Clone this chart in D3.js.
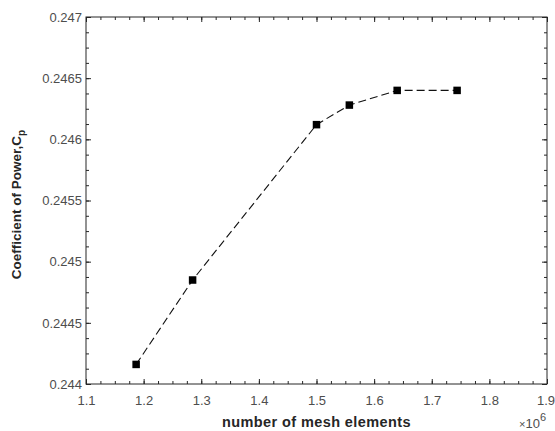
<!DOCTYPE html>
<html>
<head>
<meta charset="utf-8">
<script src="https://cdn.jsdelivr.net/npm/d3@7"></script>
<style>
  body { margin: 0; background: #fff; }
  text { font-family: "Liberation Sans", Arial, sans-serif; }
</style>
</head>
<body>
<script>
const w = 555;
const h = 431;

// mesh study data
const meshElements = [1.187e6, 1.285e6, 1.5e6, 1.557e6, 1.64e6, 1.744e6];
const powerCoeff = [0.24416, 0.24485, 0.24612, 0.24628, 0.2464, 0.2464];
const xTicks = [1.1, 1.2, 1.3, 1.4, 1.5, 1.6, 1.7, 1.8, 1.9];
const yTicks = [0.244, 0.2445, 0.245, 0.2455, 0.246, 0.2465, 0.247];

const points = meshElements.map((m, i) => ({x: m / 1e6, y: powerCoeff[i]}));

const mLeft = 86, mRight = 547, mTop = 17, mBottom = 384;

const x = d3.scaleLinear().domain([1.1, 1.9]).range([mLeft, mRight]);
const y = d3.scaleLinear().domain([0.244, 0.247]).range([mBottom, mTop]);

const svg = d3.select("body")
           .append("svg")
           .attr("width", w)
           .attr("height", h);

// minor ticks every quarter step
const xMinor = d3.range(1.1, 1.9001, 0.025);
const yMinor = d3.range(0.244, 0.2470001, 0.000125);

const tickCol = "#262626";
const labCol = "#4d4d4d";

// bottom axis
svg.append("g")
   .attr("transform", `translate(0,${mBottom})`)
   .call(d3.axisBottom(x).tickValues(xMinor).tickSize(-3).tickFormat(""))
   .call(g => g.select(".domain").remove())
   .selectAll("line").attr("stroke", tickCol);
svg.append("g")
   .attr("transform", `translate(0,${mBottom})`)
   .call(d3.axisBottom(x).tickValues(xTicks).tickSize(-5).tickPadding(12).tickFormat(d3.format(".1f")))
   .call(g => g.select(".domain").remove())
   .call(g => g.selectAll("line").attr("stroke", tickCol))
   .call(g => g.selectAll("text").attr("fill", labCol).attr("font-size", 13))
   // last label sits at the window edge, keep it inside
   .call(g => g.selectAll("text").filter(d => d === 1.9).attr("dx", -1.5));

// top axis
svg.append("g")
   .attr("transform", `translate(0,${mTop})`)
   .call(d3.axisTop(x).tickValues(xMinor).tickSize(-3).tickFormat(""))
   .call(g => g.select(".domain").remove())
   .selectAll("line").attr("stroke", tickCol);
svg.append("g")
   .attr("transform", `translate(0,${mTop})`)
   .call(d3.axisTop(x).tickValues(xTicks).tickSize(-5).tickFormat(""))
   .call(g => g.select(".domain").remove())
   .selectAll("line").attr("stroke", tickCol);

// left axis
svg.append("g")
   .attr("transform", `translate(${mLeft},0)`)
   .call(d3.axisLeft(y).tickValues(yMinor).tickSize(-3).tickFormat(""))
   .call(g => g.select(".domain").remove())
   .selectAll("line").attr("stroke", tickCol);
svg.append("g")
   .attr("transform", `translate(${mLeft},0)`)
   .call(d3.axisLeft(y).tickValues(yTicks).tickSize(-5).tickPadding(4).tickFormat(d => String(+d.toFixed(4))))
   .call(g => g.select(".domain").remove())
   .call(g => g.selectAll("line").attr("stroke", tickCol))
   .call(g => g.selectAll("text").attr("fill", labCol).attr("font-size", 13));

// right axis
svg.append("g")
   .attr("transform", `translate(${mRight},0)`)
   .call(d3.axisRight(y).tickValues(yMinor).tickSize(-3).tickFormat(""))
   .call(g => g.select(".domain").remove())
   .selectAll("line").attr("stroke", tickCol);
svg.append("g")
   .attr("transform", `translate(${mRight},0)`)
   .call(d3.axisRight(y).tickValues(yTicks).tickSize(-5).tickFormat(""))
   .call(g => g.select(".domain").remove())
   .selectAll("line").attr("stroke", tickCol);

// box
svg.append("rect")
   .attr("x", mLeft).attr("y", mTop)
   .attr("width", mRight - mLeft).attr("height", mBottom - mTop)
   .attr("fill", "none").attr("stroke", tickCol).attr("stroke-width", 1);

// dashed line
const line = d3.line().x(d => x(d.x)).y(d => y(d.y));
svg.append("path")
   .datum(points)
   .attr("d", line)
   .attr("fill", "none")
   .attr("stroke", "#111")
   .attr("stroke-width", 1.1)
   .attr("stroke-dasharray", "8,4");

// square markers
const ms = 7.5;
svg.append("g")
   .selectAll("rect")
   .data(points)
   .enter().append("rect")
   .attr("x", d => x(d.x) - ms / 2)
   .attr("y", d => y(d.y) - ms / 2)
   .attr("width", ms)
   .attr("height", ms)
   .attr("fill", "#000");

// axis labels
svg.append("text")
   .attr("x", (mLeft + mRight) / 2)
   .attr("y", 427)
   .attr("text-anchor", "middle")
   .attr("font-size", 14.5)
   .attr("font-weight", "bold")
   .attr("letter-spacing", 0.4)
   .attr("fill", "#262626")
   .text("number of mesh elements");

const yl = svg.append("text")
   .attr("transform", `translate(21,${(mTop + mBottom) / 2 + 4}) rotate(-90)`)
   .attr("text-anchor", "middle")
   .attr("font-size", 13.5)
   .attr("font-weight", "bold")
   .attr("fill", "#262626");
yl.append("tspan").text("Coefficient of Power,C");
yl.append("tspan").attr("dy", 4).attr("font-size", 10).text("p");

// exponent
const ex = svg.append("text")
   .attr("x", 519)
   .attr("y", 428)
   .attr("font-size", 13)
   .attr("fill", labCol);
ex.append("tspan").attr("font-size", 11).text("×");
ex.append("tspan").text("10");
ex.append("tspan").attr("dy", -7).attr("font-size", 11).text("6");
</script>
</body>
</html>
